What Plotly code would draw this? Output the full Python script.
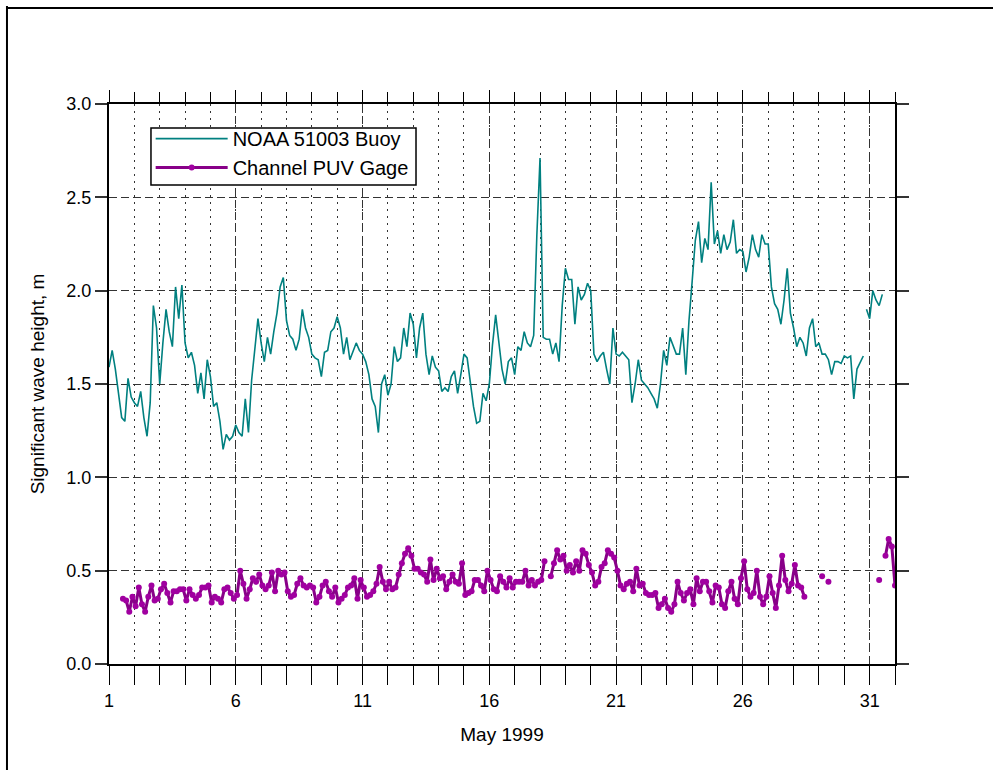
import plotly.graph_objects as go

# ---- NOAA 51003 buoy: significant wave height (m), 3-hourly samples ----
buoy_start = 1.0
buoy_step = 0.125
buoy_hs = [
    1.59, 1.68, 1.58, 1.45, 1.32, 1.30, 1.53, 1.43,   # day 1
    1.40, 1.38, 1.46, 1.32, 1.22, 1.40, 1.92, 1.80,   # day 2
    1.50, 1.72, 1.90, 1.78, 1.70, 2.02, 1.85, 2.03,   # day 3
    1.72, 1.64, 1.67, 1.60, 1.45, 1.56, 1.42, 1.63,   # day 4
    1.54, 1.38, 1.40, 1.30, 1.15, 1.23, 1.20, 1.22,   # day 5
    1.28, 1.24, 1.22, 1.42, 1.24, 1.52, 1.70, 1.85,   # day 6
    1.72, 1.62, 1.75, 1.66, 1.78, 1.88, 2.02, 2.07,   # day 7
    1.84, 1.76, 1.74, 1.68, 1.74, 1.90, 1.80, 1.75,   # day 8
    1.66, 1.64, 1.63, 1.54, 1.67, 1.68, 1.78, 1.80,   # day 9
    1.86, 1.80, 1.66, 1.75, 1.63, 1.68, 1.72, 1.68,   # day 10
    1.66, 1.62, 1.55, 1.42, 1.38, 1.24, 1.50, 1.55,   # day 11
    1.44, 1.50, 1.70, 1.62, 1.64, 1.80, 1.70, 1.88,   # day 12
    1.82, 1.64, 1.80, 1.88, 1.66, 1.55, 1.65, 1.59,   # day 13
    1.57, 1.46, 1.48, 1.46, 1.54, 1.57, 1.45, 1.55,   # day 14
    1.66, 1.64, 1.50, 1.38, 1.29, 1.30, 1.45, 1.41,   # day 15
    1.50, 1.71, 1.87, 1.72, 1.58, 1.50, 1.62, 1.64,   # day 16
    1.55, 1.70, 1.68, 1.78, 1.72, 1.70, 1.76, 2.30,   # day 17
    2.71, 1.75, 1.74, 1.74, 1.66, 1.72, 1.62, 1.92,   # day 18
    2.12, 2.06, 2.06, 1.82, 2.02, 1.95, 1.98, 2.04,   # day 19
    2.00, 1.66, 1.62, 1.65, 1.67, 1.58, 1.50, 1.80,   # day 20
    1.66, 1.65, 1.67, 1.65, 1.63, 1.40, 1.50, 1.63,   # day 21
    1.52, 1.50, 1.48, 1.45, 1.42, 1.37, 1.50, 1.68,   # day 22
    1.60, 1.75, 1.71, 1.66, 1.66, 1.80, 1.55, 1.84,   # day 23
    2.05, 2.27, 2.37, 2.15, 2.28, 2.22, 2.58, 2.25,   # day 24
    2.32, 2.20, 2.30, 2.22, 2.26, 2.38, 2.20, 2.22,   # day 25
    2.21, 2.10, 2.18, 2.30, 2.22, 2.18, 2.30, 2.25,   # day 26
    2.25, 2.02, 1.93, 1.90, 1.82, 1.95, 2.12, 1.88,   # day 27
    1.80, 1.70, 1.75, 1.72, 1.65, 1.80, 1.85, 1.70,   # day 28
    1.72, 1.66, 1.66, 1.63, 1.55, 1.62, 1.62, 1.61,   # day 29
    1.65, 1.64, 1.65, 1.42, 1.58, 1.62, 1.65,         # day 30
]
# second record segment at the end of the month
buoy_tail_start = 30.875
buoy_tail_hs = [1.90, 1.85, 2.00, 1.95, 1.92, 1.98]

# ---- Channel PUV gage: significant wave height (m), 3-hourly samples ----
gage_start = 1.55
gage_step = 0.125
gage_hs = [
    0.35, 0.34, 0.28, 0.36, 0.31, 0.41, 0.32, 0.28, 0.36, 0.42,
    0.34, 0.35, 0.40, 0.43, 0.38, 0.33, 0.39, 0.39, 0.40, 0.40,
    0.34, 0.40, 0.37, 0.35, 0.37, 0.41, 0.41, 0.42, 0.33, 0.36,
    0.35, 0.33, 0.40, 0.41, 0.38, 0.35, 0.37, 0.50, 0.43, 0.35,
    0.40, 0.46, 0.44, 0.48, 0.42, 0.40, 0.42, 0.49, 0.39, 0.50,
    0.48, 0.49, 0.39, 0.36, 0.37, 0.43, 0.46, 0.42, 0.41, 0.42,
    0.41, 0.33, 0.36, 0.42, 0.44, 0.39, 0.36, 0.41, 0.33, 0.35,
    0.37, 0.41, 0.42, 0.46, 0.35, 0.45, 0.41, 0.36, 0.37, 0.39,
    0.43, 0.52, 0.44, 0.40, 0.44, 0.40, 0.41, 0.48, 0.54, 0.59,
    0.62, 0.58, 0.51, 0.51, 0.49, 0.48, 0.44, 0.56, 0.45, 0.51,
    0.46, 0.47, 0.40, 0.44, 0.48, 0.44, 0.43, 0.54, 0.37, 0.38,
    0.39, 0.45, 0.45, 0.42, 0.39, 0.50,
    0.45, 0.40, 0.39, 0.47, 0.44, 0.41, 0.46, 0.41, 0.44, 0.44,
    0.44, 0.50, 0.42, 0.45, 0.42, 0.44, 0.45, 0.55, None,
    0.47, 0.54, 0.61, 0.56, 0.58, 0.50, 0.53, 0.49, 0.55, 0.50,
    0.61, 0.59, 0.53, 0.49, 0.42, 0.44, 0.52, 0.54, 0.61, 0.59,
    0.57, 0.50, 0.42, 0.40, 0.43, 0.44, 0.39, 0.51, 0.42, 0.43,
    0.38, 0.37, 0.37, 0.38, 0.30, 0.32, 0.35, 0.30, 0.28, 0.32,
    0.44, 0.38, 0.34, 0.38, 0.40, 0.32, 0.46, 0.39, 0.44, 0.44,
    0.39, 0.33, 0.42, 0.41, 0.32, 0.30, 0.39, 0.44, 0.35, 0.32,
    0.46, 0.55, 0.40, 0.36, 0.38, 0.50, 0.36, 0.32, 0.36, 0.47,
    0.38, 0.30, 0.42, 0.58, 0.45, 0.39, 0.43, 0.53, 0.42, 0.41,
    0.36,
]
# scattered late-month records (None marks a break in the record)
gage_tail_days = [29.125, 29.25, 29.375, 30.0, 31.375, 31.5, 31.625, 31.75, 31.875, 32.0]
gage_tail_hs = [0.47, None, 0.44, None, 0.45, None, 0.58, 0.67, 0.63, 0.42]

# x-axis tick labels (days of May)
day_ticks = [1, 6, 11, 16, 21, 26, 31]

buoy_x = [buoy_start + buoy_step * i for i in range(len(buoy_hs))]
buoy_x += [None] + [buoy_tail_start + buoy_step * i for i in range(len(buoy_tail_hs))]
buoy_y = buoy_hs + [None] + buoy_tail_hs

gage_x = [gage_start + gage_step * i for i in range(len(gage_hs))] + [None] + gage_tail_days
gage_y = gage_hs + [None] + gage_tail_hs

FONT = "Liberation Sans, Arial, sans-serif"
GRID = "#333333"

fig = go.Figure()
fig.add_trace(go.Scatter(
    x=buoy_x, y=buoy_y, mode="lines", name="NOAA 51003 Buoy",
    line=dict(color="#008080", width=1.6), connectgaps=False,
))
fig.add_trace(go.Scatter(
    x=gage_x, y=gage_y, mode="lines+markers", name="Channel PUV Gage",
    line=dict(color="#880088", width=3), connectgaps=False,
    marker=dict(color="#A000A0", size=6, line=dict(width=0)),
))
# carrier for the top tick axis
fig.add_trace(go.Scatter(x=[None], y=[None], xaxis="x2", showlegend=False,
                         hoverinfo="skip"))

fig.update_layout(
    width=993, height=770,
    margin=dict(l=109, r=98, t=104, b=106),
    paper_bgcolor="white", plot_bgcolor="white",
    font=dict(family=FONT, color="black"),
    showlegend=True,
    legend=dict(
        x=0.053, y=0.973, xanchor="left", yanchor="top",
        bgcolor="rgba(0,0,0,0)", borderwidth=0,
        font=dict(size=20, family=FONT), itemwidth=72,
    ),
    xaxis=dict(
        range=[1, 32], tickvals=day_ticks, ticktext=[str(d) for d in day_ticks],
        ticks="outside", ticklen=19, tickwidth=1, tickcolor="black",
        showline=True, linecolor="black", linewidth=2, mirror=True,
        showgrid=True, gridcolor=GRID, gridwidth=1, griddash="8px,4px",
        zeroline=False,
        minor=dict(tick0=1, dtick=1, ticks="outside", ticklen=19, tickwidth=1,
                   tickcolor="black", showgrid=True, gridcolor=GRID,
                   gridwidth=1, griddash="2px,5px"),
        tickfont=dict(size=18),
        title=dict(text="May 1999", font=dict(size=19), standoff=18),
    ),
    xaxis2=dict(
        overlaying="x", side="top", range=[1, 32], tick0=1, dtick=5,
        ticks="outside", ticklen=13, tickwidth=1, tickcolor="black",
        showticklabels=False, showgrid=False, showline=False, zeroline=False,
        minor=dict(tick0=1, dtick=1, ticks="outside", ticklen=11, tickwidth=1,
                   tickcolor="black", showgrid=False),
    ),
    yaxis=dict(
        range=[0, 3], tick0=0, dtick=0.5, tickformat=".1f",
        ticks="outside", ticklen=12, tickwidth=1.5, tickcolor="#333333",
        showline=True, linecolor="black", linewidth=2, mirror="ticks",
        showgrid=True, gridcolor=GRID, gridwidth=1, griddash="8px,4px",
        zeroline=False,
        tickfont=dict(size=18),
        title=dict(text="Significant wave height, m", font=dict(size=19),
                   standoff=17),
    ),
    shapes=[
        # legend frame (white panel over the grid)
        dict(type="rect", xref="paper", yref="paper", layer="above",
             x0=0.0534, x1=0.3906, y0=0.8554, y1=0.9571,
             fillcolor="white", line=dict(color="black", width=1.5)),
        # page frame
        dict(type="line", xref="paper", yref="paper",
             x0=-0.1298, x1=-0.1298, y0=1.175, y1=-0.25,
             line=dict(color="black", width=2)),
        dict(type="line", xref="paper", yref="paper",
             x0=-0.1298, x1=1.2, y0=1.1714, y1=1.1714,
             line=dict(color="black", width=2)),
    ],
)

fig.write_html("out.html")
